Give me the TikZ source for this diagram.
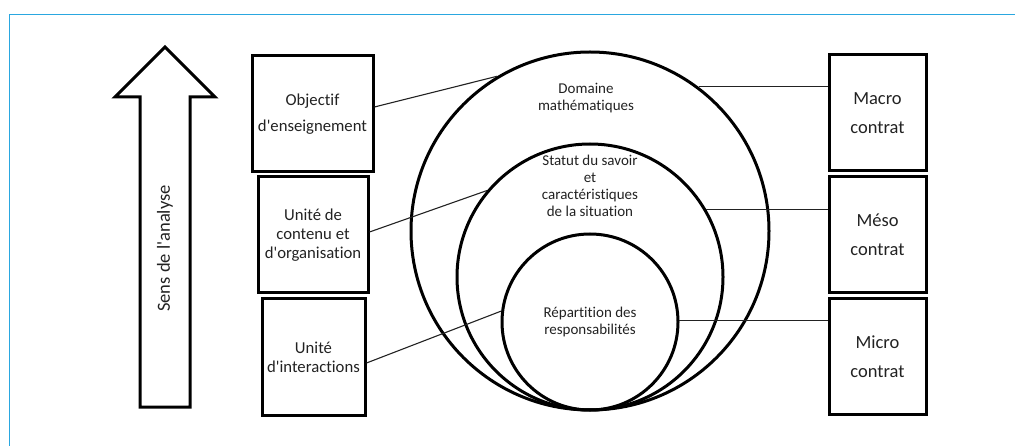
\documentclass[tikz,border=0pt]{standalone}
\usepackage{fontspec}
\setmainfont{Carlito}[Ligatures={NoCommon}]
\definecolor{frameblue}{HTML}{2AA7E0}
\definecolor{ink}{HTML}{222222}
\newcommand{\apos}{\textquotesingle}
\tikzset{
  thickbox/.style={draw=black, line width=3pt, rectangle, align=center, text=ink, inner sep=0pt},
  leftbox/.style={thickbox, font=\fontsize{16.7}{19}\selectfont},
  rightbox/.style={thickbox, font=\fontsize{18.5}{29}\selectfont, minimum width=97pt, minimum height=116pt},
  ring/.style={draw=black, line width=3pt, circle, inner sep=0pt},
  ringtext/.style={align=center, text=ink, font=\fontsize{15}{17}\selectfont, inner sep=0pt},
  link/.style={draw=ink, line width=1.1pt},
}
\begin{document}
\begin{tikzpicture}[x=1pt, y=-1pt]
\useasboundingbox (0,0) rectangle (1015,446);
% frame
\draw[frameblue, line width=1.6pt] (9.5,446) -- (9.5,14.5) -- (1015,14.5);
% analysis arrow
\draw[line width=3pt, line join=miter] (165,47) -- (215,97) -- (190,97) -- (190,407) -- (140,407) -- (140,97) -- (115,97) -- cycle;
\node[rotate=90, text=ink, font=\fontsize{18.5}{20}\selectfont, inner sep=0pt] (sens) at (165,248.5) {Sens de l\apos analyse};
% left boxes
\node[leftbox, minimum width=121pt, minimum height=116pt] (obj) at (312.5,114) {Objectif\\[7pt]d\apos enseignement};
\node[leftbox, minimum width=110pt, minimum height=116pt] (unit) at (313,235) {Unité de\\contenu et\\d\apos organisation};
\node[leftbox, minimum width=103pt, minimum height=116pt] (inter) at (313.5,357) {Unité\\d\apos interactions};
% right boxes
\node[rightbox] (macro) at (877.5,113) {Macro\\contrat};
\node[rightbox] (meso) at (877.5,235) {Méso\\contrat};
\node[rightbox] (micro) at (877.5,356.5) {Micro\\contrat};
% circles
\node[ring, minimum size=358pt] (outer) at (590,231) {};
\node[ring, minimum size=266pt] (middle) at (590,277) {};
\node[ring, minimum size=176pt] (inner) at (590,322) {};
% circle texts
\node[ringtext] (dom) at (586,98) {Domaine\\mathématiques};
\node[ringtext] (statut) at (590,185.5) {Statut du savoir\\et\\caractéristiques\\de la situation};
\node[ringtext] (rep) at (590,322) {Répartition des\\responsabilités};
% connectors left
\draw[link] ([yshift=7pt]obj.east) -- (outer.121.3);
\draw[link] ([yshift=3pt]unit.east) -- (middle.140.9);
\draw[link] ([yshift=-6pt]inter.east) -- (inner.173);
% connectors right
\draw[link] (outer.53.6) -- (outer.53.6 -| macro.west);
\draw[link] (middle.30.8) -- (middle.30.8 -| meso.west);
\draw[link] (inner.1.3) -- (inner.1.3 -| micro.west);
\end{tikzpicture}
\end{document}
